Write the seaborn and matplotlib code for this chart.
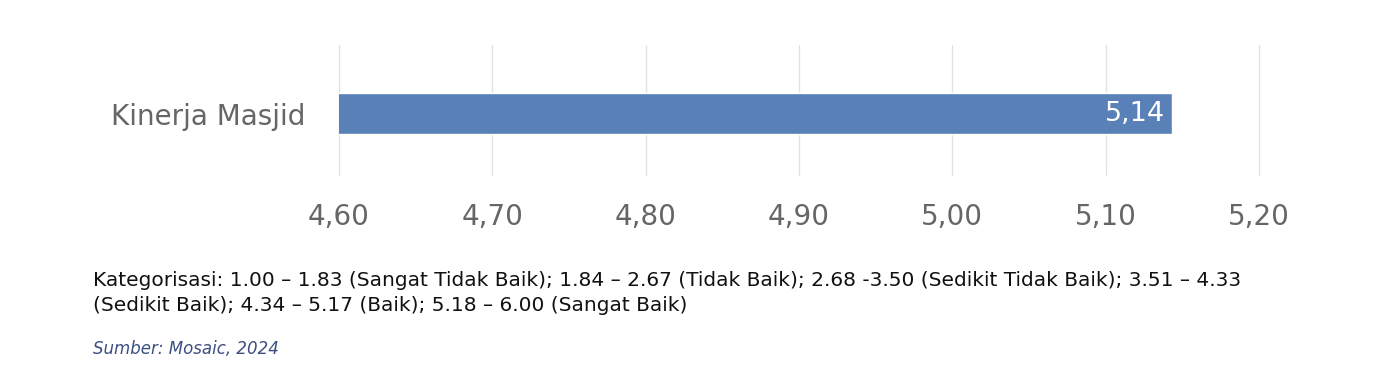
import pandas as pd
import matplotlib.pyplot as plt
import seaborn as sns

# Data
categories = ["Kinerja Masjid"]
scores = [5.143]
x_ticks = [4.60, 4.70, 4.80, 4.90, 5.00, 5.10, 5.20]

note = ("Kategorisasi: 1.00 – 1.83 (Sangat Tidak Baik); 1.84 – 2.67 (Tidak Baik); "
        "2.68 -3.50 (Sedikit Tidak Baik); 3.51 – 4.33\n"
        "(Sedikit Baik); 4.34 – 5.17 (Baik); 5.18 – 6.00 (Sangat Baik)")
source = "Sumber: Mosaic, 2024"

df = pd.DataFrame({"Kategori": categories, "Skor": scores})

sns.set_style("white")
plt.rcParams["font.family"] = ["DejaVu Sans"]

fig = plt.figure(figsize=(14, 3.78), dpi=100)
ax = fig.add_axes([0.2421, 0.537, 0.6572, 0.344])

sns.barplot(data=df, x="Skor", y="Kategori", orient="h", color="#5a80b8",
            width=0.315, saturation=1, ax=ax, errorbar=None)

ax.set_xlim(4.60, 5.20)
ax.set_ylim(0.47, -0.53)
ax.set_xticks(x_ticks)
ax.set_xticklabels([f"{t:.2f}".replace(".", ",") for t in x_ticks])
ax.grid(axis="x", color="#e3e3e3", linewidth=1)
ax.set_axisbelow(True)
for gl in ax.get_xgridlines():
    gl.set_clip_on(False)
sns.despine(ax=ax, left=True, bottom=True)
ax.set_xlabel("")
ax.set_ylabel("")
ax.tick_params(axis="x", labelsize=20, labelcolor="#666666", length=0, pad=20)
ax.tick_params(axis="y", labelsize=20, labelcolor="#666666", length=0, pad=24)

# value label inside the bar end
for i, v in enumerate(scores):
    ax.text(v - 0.0045, i, f"{v:.2f}".replace(".", ","), color="white",
            fontsize=19.5, ha="right", va="center")

fig.text(0.0664, 0.225, note, fontsize=14.5, color="#111111", va="center",
         linespacing=1.35)
fig.text(0.0664, 0.077, source, fontsize=12, color="#3d4f80", style="italic",
         va="center")

plt.savefig("out.png", dpi=100)
plt.close()
